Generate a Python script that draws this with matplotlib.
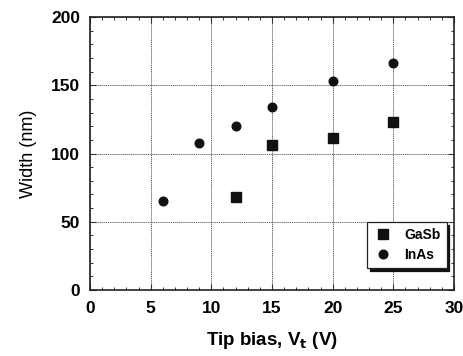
import matplotlib
matplotlib.use("Agg")
import matplotlib.pyplot as plt
from matplotlib.ticker import MultipleLocator

plt.rcParams['font.family'] = ['Liberation Sans', 'DejaVu Sans']

# Tip bias (V) and feature width (nm)
gasb_bias = [12, 15, 20, 25]
gasb_width = [68, 106, 111, 123]
inas_bias = [6, 9, 12, 15, 20, 25]
inas_width = [65, 108, 120, 134, 153, 166]

x_ticks = [0, 5, 10, 15, 20, 25, 30]
y_ticks = [0, 50, 100, 150, 200]

fig = plt.figure(figsize=(4.64, 3.56), dpi=100)
ax = fig.add_axes([90 / 464, 1 - 290 / 356, 364 / 464, 273 / 356])

ax.plot(gasb_bias, gasb_width, 's', color='#111111', markersize=7.2,
        linestyle='none', label='GaSb')
ax.plot(inas_bias, inas_width, 'o', color='#111111', markersize=6.2,
        linestyle='none', label='InAs')

ax.set_xlim(0, 30)
ax.set_ylim(0, 200)
ax.set_xticks(x_ticks)
ax.set_yticks(y_ticks)
ax.xaxis.set_minor_locator(MultipleLocator(1))
ax.yaxis.set_minor_locator(MultipleLocator(10))
ax.tick_params(which='both', direction='in', top=True, right=True,
               labeltop=False, labelright=False, color='#333333')
ax.tick_params(which='major', length=4, width=0.8, pad=7,
               labelsize=12.5)
ax.tick_params(axis='x', which='major', pad=8)
ax.tick_params(which='minor', length=2.5, width=0.7)
for lab in ax.get_xticklabels() + ax.get_yticklabels():
    lab.set_fontweight('bold')

ax.grid(True, which='major', color='#555555', linewidth=0.6, linestyle=(0, (1.5, 0.8)))
ax.set_axisbelow(True)
for sp in ax.spines.values():
    sp.set_linewidth(1.2)
    sp.set_color('#222222')

ax.set_xlabel('Tip bias, V$_\\mathbf{t}$ (V)', fontsize=13.5,
              fontweight='bold', labelpad=10)
ax.set_ylabel('Width (nm)', fontsize=13, labelpad=10)

leg = ax.legend(loc='lower right', bbox_to_anchor=(0.98, 0.08),
                frameon=True, fancybox=False,
                shadow={'color': '#111111', 'alpha': 1.0},
                prop={'weight': 'bold', 'size': 10}, handletextpad=0.9,
                borderpad=0.45, labelspacing=0.4, handlelength=1.3,
                borderaxespad=0)
leg.get_frame().set_edgecolor('#222222')
leg.get_frame().set_linewidth(0.9)

fig.savefig('out.png', dpi=100)
